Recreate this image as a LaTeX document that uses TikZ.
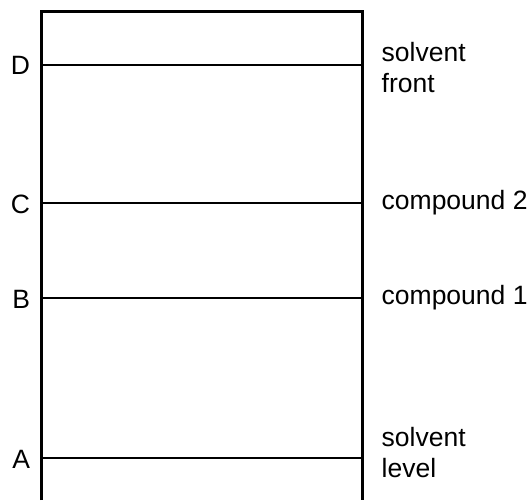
\documentclass[tikz,border=0pt]{standalone}
\usepackage{fontspec}
\setmainfont{Liberation Sans}
\begin{document}
\begin{tikzpicture}[x=1pt,y=-1pt,
		lbl/.style={font=\fontsize{26.5}{31.3}\selectfont,inner sep=0pt,align=left},
		plate/.style={line width=3pt},
		spot/.style={line width=2.4pt}]
	\useasboundingbox (0,0) rectangle (532,500);
	% plate outline, open at the bottom
	\coordinate (bl) at (41,500);
	\coordinate (tl) at (41,12);
	\coordinate (tr) at (362,12);
	\coordinate (br) at (362,500);
	\draw[plate] (bl) -- (tl) -- (tr) -- (br);
	% levels on the plate
	\coordinate (Dl) at (41,65);  \coordinate (Dr) at (362,65);
	\coordinate (Cl) at (41,203); \coordinate (Cr) at (362,203);
	\coordinate (Bl) at (41,298); \coordinate (Br) at (362,298);
	\coordinate (Al) at (41,458); \coordinate (Ar) at (362,458);
	\draw[spot] (Dl) -- (Dr);
	\draw[spot] (Cl) -- (Cr);
	\draw[spot] (Bl) -- (Br);
	\draw[spot] (Al) -- (Ar);
	% letters
	\node[lbl,anchor=base east] (D) at (30.3,75) {D};
	\node[lbl,anchor=base east] (C) at (30.3,213) {C};
	\node[lbl,anchor=base east] (B) at (30.3,308) {B};
	\node[lbl,anchor=base east] (A) at (30.3,468) {A};
	% names
	\node[lbl,anchor=north west] (front) at (381.5,42) {solvent\\front};
	\node[lbl,anchor=base west] (cmp2) at (381.5,209) {compound 2};
	\node[lbl,anchor=base west] (cmp1) at (381.5,304) {compound 1};
	\node[lbl,anchor=north west] (level) at (381.5,427) {solvent\\level};
\end{tikzpicture}
\end{document}
